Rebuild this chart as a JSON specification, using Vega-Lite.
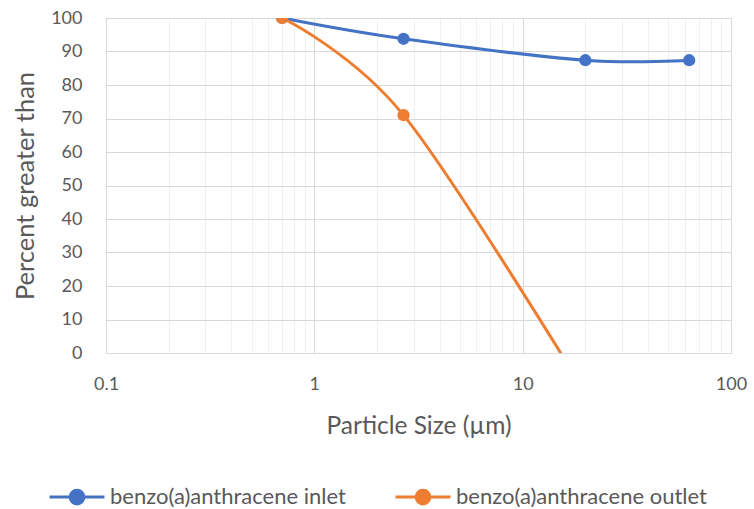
{
  "$schema": "https://vega.github.io/schema/vega-lite/v6.json",
  "width": 625,
  "height": 335,
  "autosize": "none",
  "padding": {"left": 106, "top": 18, "right": 23, "bottom": 156},
  "background": "white",
  "config": {
    "view": {"stroke": null},
    "font": "Lato",
    "axis": {
      "labelFont": "Lato",
      "titleFont": "Lato",
      "labelColor": "#595959",
      "titleColor": "#595959",
      "labelFontSize": 18,
      "titleFontSize": 24.5,
      "titleFontWeight": "normal",
      "ticks": false,
      "domain": false,
      "gridColor": "#D9D9D9",
      "gridWidth": 1
    },
    "legend": {
      "labelFont": "Lato",
      "labelFontSize": 22,
      "labelColor": "#595959",
      "labelLimit": 400
    }
  },
  "data": {
    "values": [
      {"series": "benzo(a)anthracene inlet", "size": 0.7, "pct": 100},
      {"series": "benzo(a)anthracene inlet", "size": 2.68, "pct": 93.8},
      {"series": "benzo(a)anthracene inlet", "size": 20, "pct": 87.4},
      {"series": "benzo(a)anthracene inlet", "size": 63, "pct": 87.4},
      {"series": "benzo(a)anthracene outlet", "size": 0.7, "pct": 100},
      {"series": "benzo(a)anthracene outlet", "size": 2.68, "pct": 71},
      {"series": "benzo(a)anthracene outlet", "size": 20, "pct": -12}
    ]
  },
  "encoding": {
    "x": {
      "field": "size",
      "type": "quantitative",
      "scale": {"type": "log", "domain": [0.1, 100], "nice": false},
      "axis": {
        "title": "Particle Size (µm)",
        "values": [0.1, 0.2, 0.3, 0.4, 0.5, 0.6, 0.7, 0.8, 0.9, 1, 2, 3, 4, 5, 6, 7, 8, 9, 10, 20, 30, 40, 50, 60, 70, 80, 90, 100],
        "labelExpr": "(datum.value == 0.1 || datum.value == 1 || datum.value == 10 || datum.value == 100) ? format(datum.value, '~g') : ''",
        "gridColor": {
          "condition": {"test": "datum.value == 0.1 || datum.value == 1 || datum.value == 10 || datum.value == 100", "value": "#D9D9D9"},
          "value": "#F0F0F0"
        },
        "labelPadding": 22,
        "titlePadding": 21,
        "labelFlush": false
      }
    },
    "y": {
      "field": "pct",
      "type": "quantitative",
      "scale": {"domain": [0, 100], "nice": false, "zero": false},
      "axis": {
        "title": "Percent greater than",
        "titleFontSize": 25.5,
        "values": [0, 10, 20, 30, 40, 50, 60, 70, 80, 90, 100],
        "labelPadding": 24,
        "titlePadding": 12
      }
    },
    "color": {
      "field": "series",
      "type": "nominal",
      "scale": {"range": ["#4472C4", "#ED7D31"]},
      "legend": {
        "title": null,
        "orient": "none",
        "direction": "horizontal",
        "legendX": -58,
        "legendY": 450,
        "symbolType": "M -1 0 L 1 0 M 0.25 0 A 0.25 0.25 0 1 1 -0.25 0 A 0.25 0.25 0 1 1 0.25 0 Z",
        "symbolSize": 3025,
        "symbolStrokeWidth": 3,
        "columnPadding": 43,
        "labelOffset": 4,
        "encode": {
          "symbols": {
            "update": {
              "fill": {"scale": "color", "field": "value"},
              "stroke": {"scale": "color", "field": "value"},
              "fillOpacity": {"value": 1}
            }
          }
        }
      }
    }
  },
  "layer": [
    {
      "mark": {"type": "line", "interpolate": "cardinal", "strokeWidth": 3, "clip": true}
    },
    {
      "mark": {"type": "point", "filled": true, "size": 150, "opacity": 1, "clip": true}
    }
  ]
}
